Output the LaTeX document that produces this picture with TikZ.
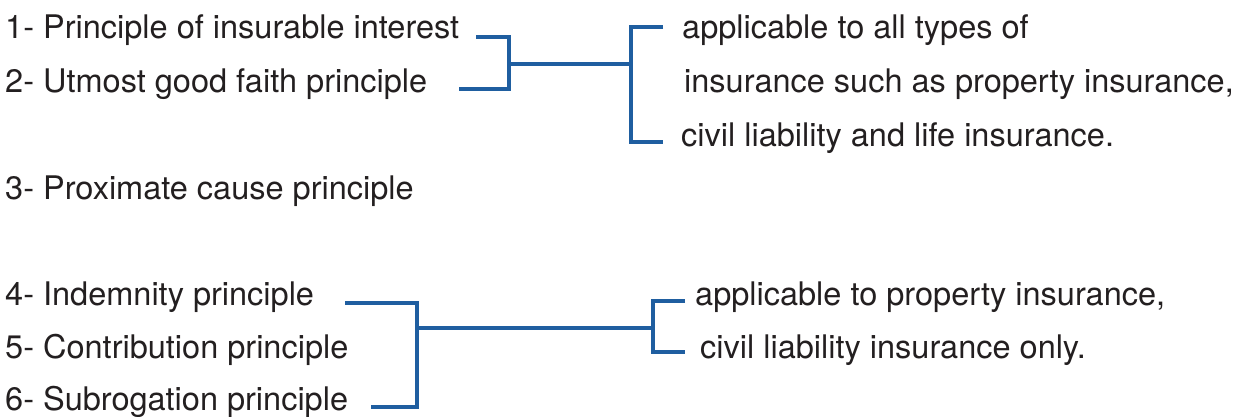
\documentclass[tikz,border=0pt]{standalone}
\usepackage{fontspec}
\setmainfont{TeX Gyre Heros}
\usetikzlibrary{positioning,calc}
\definecolor{brkblue}{RGB}{31,94,160}
\definecolor{txtgray}{RGB}{35,31,32}
\tikzset{
	item/.style={anchor=base west, inner sep=0pt, text=txtgray, font=\fontsize{32.5}{38}\selectfont},
	brk/.style={draw=brkblue, line width=3.2pt}
}
\begin{document}
\begin{tikzpicture}[x=1pt,y=-1pt]
			\useasboundingbox (0,0) rectangle (1238,417);
			% principles
			\node[item] (p1) at (5,39) {1- Principle of insurable interest};
			\node[item] (p2) at (5,93) {2- Utmost good faith principle};
			\node[item] (p3) at (5,199) {3- Proximate cause principle};
			\node[item] (p4) at (5,305) {4- Indemnity principle};
			\node[item] (p5) at (5,358) {5- Contribution principle};
			\node[item] (p6) at (5,410) {6- Subrogation principle};
			% scopes
			\node[item] (r1) at (682,39) {applicable to all types of};
			\node[item] (r2) at (684,93) {insurance such as property insurance,};
			\node[item] (r3) at (681,146) {civil liability and life insurance.};
			\node[item] (r4) at (695,305) {applicable to property insurance,};
			\node[item] (r5) at (700,358) {civil liability insurance only.};
			% brackets
			\coordinate (j1) at (509,64);
			\coordinate (k1) at (631,64);
			\coordinate (j2) at (417,328);
			\coordinate (k2) at (653,328);
			\draw[brk] ([xshift=17pt,yshift=2pt]p1.base east) -| (j1) |- ([xshift=32pt,yshift=4pt]p2.base east);
			\draw[brk] (j1) -- (k1);
			\draw[brk] ([xshift=-19pt,yshift=12pt]r1.base west) -| (k1) |- ([xshift=-18pt,yshift=4pt]r3.base west);
			\draw[brk] ([xshift=31pt,yshift=2pt]p4.base east) -| (j2) |- ([xshift=23pt,yshift=3pt]p6.base east);
			\draw[brk] (j2) -- (k2);
			\draw[brk] ([xshift=-10pt,yshift=4pt]r4.base west) -| (k2) |- ([xshift=-15pt,yshift=6pt]r5.base west);
\end{tikzpicture}
\end{document}
